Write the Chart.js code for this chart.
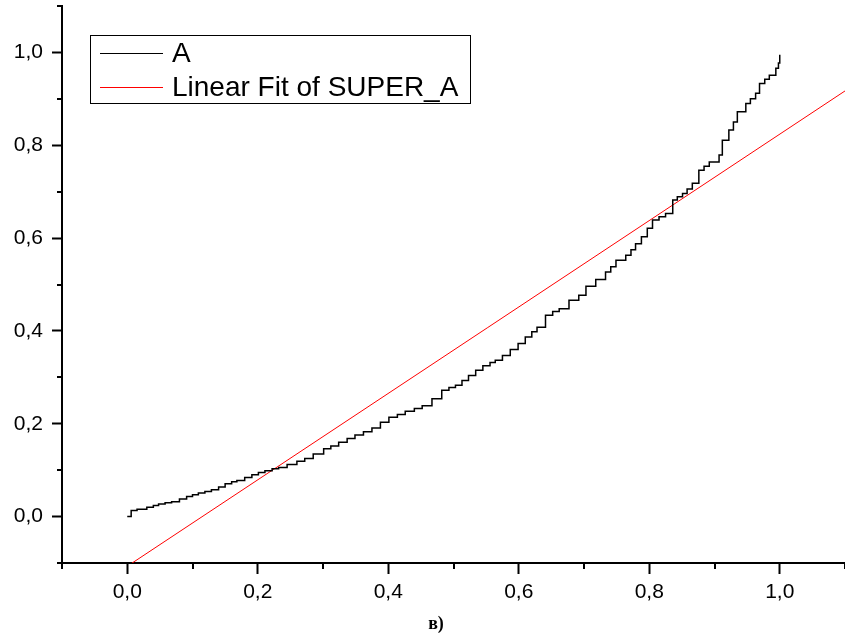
<!DOCTYPE html>
<html>
<head>
<meta charset="utf-8">
<script src="https://cdn.jsdelivr.net/npm/chart.js@4.4.0/dist/chart.umd.min.js"></script>
<style>
  body { margin: 0; background: #fff; }
  canvas { display: block; }
</style>
</head>
<body>
<canvas id="chart" width="845" height="637"></canvas>
<script>
// stepped curve "A"
var aX = [0.000, 0.006, 0.015, 0.030, 0.040, 0.048, 0.058, 0.068, 0.080, 0.091,
          0.100, 0.109, 0.119, 0.129, 0.140, 0.150, 0.160, 0.168, 0.180, 0.191,
          0.201, 0.211, 0.222, 0.232, 0.245, 0.260, 0.272, 0.285, 0.301, 0.312,
          0.324, 0.337, 0.349, 0.362, 0.375, 0.388, 0.401, 0.414, 0.426, 0.440,
          0.452, 0.467, 0.482, 0.493, 0.503, 0.513, 0.523, 0.534, 0.545, 0.556,
          0.564, 0.575, 0.587, 0.599, 0.610, 0.620, 0.628, 0.641, 0.652, 0.662,
          0.677, 0.692, 0.703, 0.718, 0.733, 0.741, 0.749, 0.764, 0.772, 0.779,
          0.788, 0.797, 0.805, 0.815, 0.825, 0.836, 0.843, 0.851, 0.858, 0.866,
          0.876, 0.884, 0.892, 0.907, 0.912, 0.922, 0.929, 0.935, 0.948, 0.955,
          0.963, 0.969, 0.977, 0.984, 0.994, 0.998, 1.000];
var aY = [0.000, 0.013, 0.016, 0.020, 0.024, 0.027, 0.030, 0.032, 0.038, 0.043,
          0.047, 0.051, 0.054, 0.058, 0.064, 0.071, 0.075, 0.078, 0.084, 0.090,
          0.095, 0.099, 0.103, 0.106, 0.112, 0.119, 0.125, 0.135, 0.146, 0.152,
          0.160, 0.168, 0.176, 0.183, 0.191, 0.203, 0.214, 0.220, 0.227, 0.233,
          0.239, 0.254, 0.272, 0.278, 0.283, 0.293, 0.304, 0.315, 0.325, 0.332,
          0.337, 0.347, 0.360, 0.373, 0.387, 0.398, 0.408, 0.434, 0.442, 0.448,
          0.466, 0.477, 0.496, 0.511, 0.527, 0.538, 0.552, 0.563, 0.575, 0.588,
          0.603, 0.621, 0.639, 0.646, 0.653, 0.682, 0.689, 0.696, 0.706, 0.718,
          0.746, 0.755, 0.764, 0.779, 0.811, 0.833, 0.850, 0.872, 0.890, 0.900,
          0.912, 0.933, 0.942, 0.951, 0.966, 0.977, 0.995];

// linear fit end points
var fitX = [0.0, 1.1];
var fitY = [-0.107, 0.917];

var xMin = -0.1, xMax = 1.1;
var yMin = -0.1, yMax = 1.1;
var caption = 'в)';

var font = "'Liberation Sans', Arial, sans-serif";

function isMajor(v) {
    return Math.abs(Math.round(v * 10)) % 2 === 0;
}
function fmt(v) {
    return isMajor(v) ? v.toFixed(1).replace('.', ',') : '';
}

var extras = {
    id: 'extras',
    afterDraw: function (chart) {
        var ctx = chart.ctx;
        var xs = chart.scales.x, ys = chart.scales.y;
        var area = chart.chartArea;
        ctx.save();
        // minor ticks
        ctx.strokeStyle = '#000';
        ctx.lineWidth = 2;
        xs.ticks.forEach(function (t) {
            if (isMajor(t.value)) return;
            var px = Math.round(xs.getPixelForValue(t.value));
            ctx.beginPath();
            ctx.moveTo(px, area.bottom);
            ctx.lineTo(px, area.bottom + 6);
            ctx.stroke();
        });
        ys.ticks.forEach(function (t) {
            if (isMajor(t.value)) return;
            var py = Math.round(ys.getPixelForValue(t.value));
            ctx.beginPath();
            ctx.moveTo(area.left, py);
            ctx.lineTo(area.left - 5, py);
            ctx.stroke();
        });
        // legend box
        ctx.lineWidth = 1;
        ctx.strokeStyle = '#000';
        ctx.fillStyle = '#fff';
        ctx.fillRect(90.5, 35.5, 380, 68);
        ctx.strokeRect(90.5, 35.5, 380, 68);
        ctx.font = '28px ' + font;
        ctx.textBaseline = 'middle';
        chart.data.datasets.forEach(function (ds, i) {
            var y = 53 + i * 34;
            ctx.strokeStyle = ds.borderColor;
            ctx.lineWidth = 1;
            ctx.beginPath();
            ctx.moveTo(100, y + 0.5);
            ctx.lineTo(163, y + 0.5);
            ctx.stroke();
            ctx.fillStyle = '#000';
            ctx.fillText(ds.label, 172, y + 1);
        });
        // caption
        ctx.font = "bold 18px 'Liberation Serif', 'Times New Roman', serif";
        ctx.textAlign = 'center';
        ctx.textBaseline = 'alphabetic';
        ctx.fillStyle = '#000';
        ctx.fillText(caption, 436, 629);
        ctx.restore();
    }
};

new Chart(document.getElementById('chart').getContext('2d'), {
    type: 'line',
    data: {
        datasets: [{
            label: 'A',
            data: aX.map(function (x, i) { return { x: x, y: aY[i] }; }),
            borderColor: '#000',
            borderWidth: 1.5,
            stepped: true,
            pointRadius: 0,
            fill: false
        }, {
            label: 'Linear Fit of SUPER_A',
            data: fitX.map(function (x, i) { return { x: x, y: fitY[i] }; }),
            borderColor: '#ff0000',
            borderWidth: 1,
            pointRadius: 0,
            fill: false
        }]
    },
    options: {
        responsive: false,
        animation: false,
        layout: { padding: { top: 6, right: 0, left: 0, bottom: 0 } },
        plugins: {
            legend: { display: false },
            tooltip: { enabled: false }
        },
        scales: {
            x: {
                type: 'linear',
                min: xMin,
                max: xMax,
                border: { display: true, color: '#000', width: 2 },
                grid: {
                    drawOnChartArea: false,
                    drawTicks: true,
                    tickLength: 11,
                    tickWidth: 2,
                    tickColor: function (c) { return isMajor(c.tick.value) ? '#000' : 'rgba(0,0,0,0)'; }
                },
                ticks: {
                    stepSize: 0.1,
                    autoSkip: false,
                    maxRotation: 0,
                    padding: 6,
                    color: '#000',
                    font: { family: font, size: 21 },
                    callback: function (v) { return fmt(v); }
                },
                afterFit: function (s) {
                    s.height = 74;
                    s.paddingLeft = 0;
                    s.paddingRight = 0;
                }
            },
            y: {
                type: 'linear',
                min: yMin,
                max: yMax,
                border: { display: true, color: '#000', width: 2 },
                grid: {
                    drawOnChartArea: false,
                    drawTicks: true,
                    tickLength: 10,
                    tickWidth: 2,
                    tickColor: function (c) { return isMajor(c.tick.value) ? '#000' : 'rgba(0,0,0,0)'; }
                },
                ticks: {
                    stepSize: 0.1,
                    autoSkip: false,
                    padding: 9,
                    color: '#000',
                    font: { family: font, size: 21 },
                    callback: function (v) { return fmt(v); }
                },
                afterFit: function (s) {
                    s.width = 62;
                    s.paddingTop = 0;
                    s.paddingBottom = 0;
                }
            }
        }
    },
    plugins: [extras]
});
</script>
</body>
</html>
